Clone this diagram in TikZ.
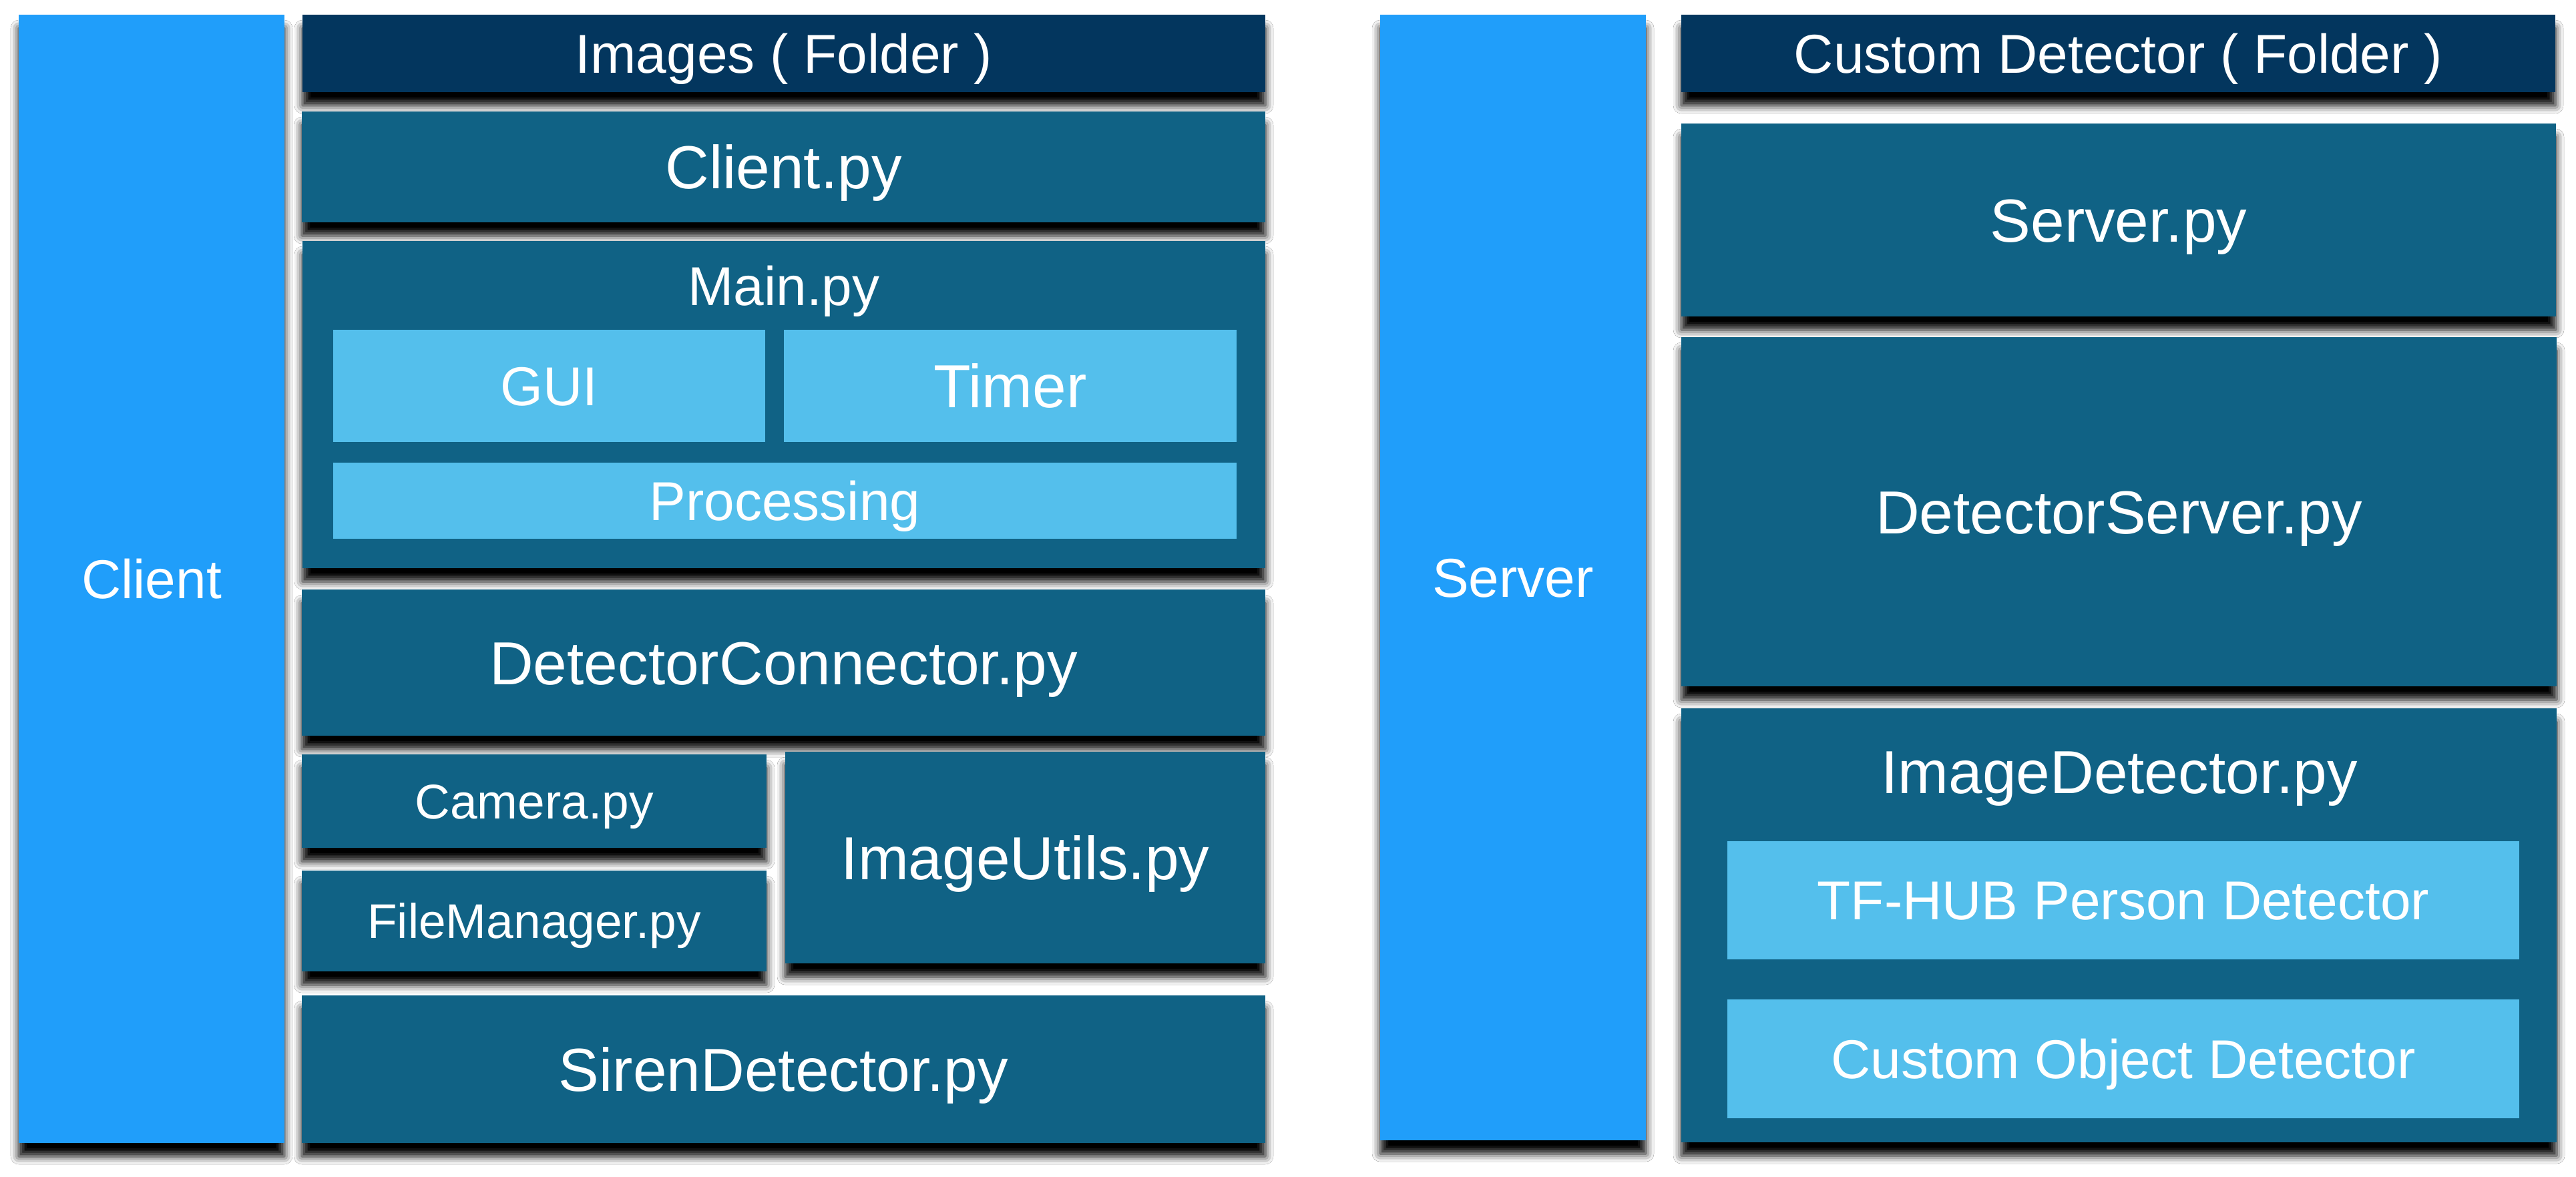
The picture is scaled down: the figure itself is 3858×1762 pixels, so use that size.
\documentclass[tikz,border=0pt]{standalone}
\usepackage{fontspec}
\setmainfont{Liberation Sans}
\usetikzlibrary{shadows.blur}
\definecolor{colblue}{HTML}{209EFA}
\definecolor{navy}{HTML}{03365E}
\definecolor{modcol}{HTML}{106285}
\definecolor{subcol}{HTML}{54BFEC}
\newcommand\pbox[7]{\node[#6, anchor=north west, minimum width={(#4-#2)*0.01cm}, minimum height={(#5-#3)*0.01cm}] (#1) at (#2,#3) {#7};}
\tikzset{
  base/.style={inner sep=0pt, outer sep=0pt, text=white},
  big/.style={font=\fontsize{25.89pt}{31pt}\selectfont, text height=18.54pt, text depth=0pt},
  mid/.style={font=\fontsize{23.33pt}{28pt}\selectfont, text height=16.7pt, text depth=0pt},
  small/.style={font=\fontsize{20.77pt}{25pt}\selectfont, text height=14.87pt, text depth=0pt},
  shade/.style={blur shadow={shadow xshift=0pt, shadow yshift=-0.2cm, shadow blur radius=0.12cm, shadow opacity=100}},
  column/.style={base, shade, fill=colblue, mid},
  folder/.style={base, shade, fill=navy, mid},
  module/.style={base, shade, fill=modcol},
  sub/.style={base, fill=subcol},
  title/.style={base},
}
\begin{document}
\begin{tikzpicture}[x=0.01cm, y=-0.01cm]
\fill[white] (0,0) rectangle (3858,1762);
\useasboundingbox (0,0) rectangle (3858,1762);
% client side
\pbox{client}{28}{22}{426}{1712}{column}{Client}
\pbox{images}{453}{22}{1895}{138}{folder}{Images ( Folder )}
\pbox{clientpy}{452}{167}{1895}{333}{module, big}{Client.py}
\pbox{main}{453}{361}{1895}{851}{module}{}
\node[title, mid, text height=16.7pt, text depth=0pt] (maintitle) at (1174,428) {Main.py};
\pbox{gui}{499}{494}{1146}{662}{sub, mid}{GUI}
\pbox{timer}{1174}{494}{1852}{662}{sub, big}{Timer}
\pbox{proc}{499}{693}{1852}{807}{sub, mid}{Processing}
\pbox{detconn}{452}{883}{1895}{1102}{module, big}{DetectorConnector.py}
\pbox{camera}{452}{1130}{1148}{1270}{module, small}{Camera.py}
\pbox{fileman}{452}{1304}{1148}{1455}{module, small}{FileManager.py}
\pbox{imgutils}{1176}{1126}{1895}{1443}{module, big}{ImageUtils.py}
\pbox{siren}{452}{1491}{1895}{1712}{module, big}{SirenDetector.py}
% server side
\pbox{server}{2067}{22}{2465}{1708}{column}{Server}
\pbox{custom}{2518}{22}{3827}{138}{folder}{Custom Detector ( Folder )}
\pbox{serverpy}{2518}{185}{3828}{474}{module, big}{Server.py}
\pbox{detserver}{2518}{505}{3829}{1028}{module, big}{DetectorServer.py}
\pbox{imgdet}{2518}{1061}{3829}{1711}{module}{}
\node[title, big] (imgdettitle) at (3174,1156) {ImageDetector.py};
\pbox{tfhub}{2587}{1260}{3773}{1437}{sub, mid}{TF-HUB Person Detector}
\pbox{customobj}{2587}{1497}{3773}{1675}{sub, mid}{Custom Object Detector}
\end{tikzpicture}
\end{document}
